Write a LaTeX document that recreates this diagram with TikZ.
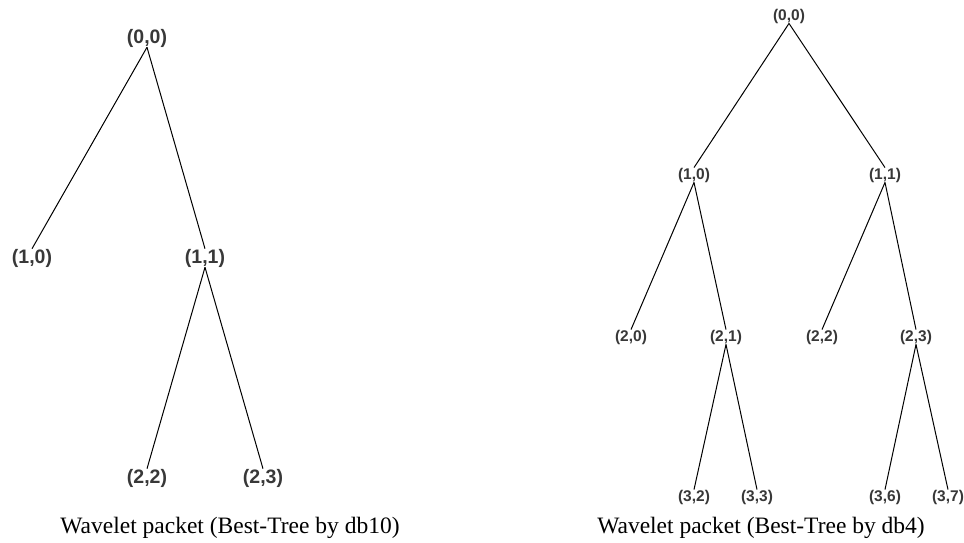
\documentclass[tikz,border=0pt]{standalone}
\usepackage{fontspec}
\setmainfont{Liberation Serif}
\newfontfamily\pktfont{Liberation Sans}

\begin{document}
\begin{tikzpicture}[x=1pt, y=-1pt,
    every node/.style={inner sep=0pt},
    pkt/.style={font=\pktfont\bfseries\fontsize{15.5}{16}\selectfont, text=black!78},
    bigpkt/.style={font=\pktfont\bfseries\fontsize{19.5}{20}\selectfont, text=black!78},
    caption/.style={font=\fontsize{23.5}{24}\selectfont, anchor=base},
    branch/.style={line width=1pt}]
  \useasboundingbox (0,0) rectangle (964,542);

  % Best tree by db10
  \node[bigpkt] (a00) at (147,38) {(0,0)};
  \node[bigpkt] (a10) at (32,258) {(1,0)};
  \node[bigpkt] (a11) at (205,258) {(1,1)};
  \node[bigpkt] (a22) at (147,478) {(2,2)};
  \node[bigpkt] (a23) at (263,478) {(2,3)};

  \foreach \p/\c in {a00/a10, a00/a11, a11/a22, a11/a23} {
    \draw[branch] (\p.south) -- (\c.north);
  }
  \node[caption] (capa) at (230,533) {Wavelet packet (Best-Tree by db10)};

  % Best tree by db4
  \node[pkt] (b00) at (789,16) {(0,0)};
  \node[pkt] (b10) at (694,175) {(1,0)};
  \node[pkt] (b11) at (885,175) {(1,1)};
  \node[pkt] (b20) at (631,337) {(2,0)};
  \node[pkt] (b21) at (726,337) {(2,1)};
  \node[pkt] (b22) at (822,337) {(2,2)};
  \node[pkt] (b23) at (916,337) {(2,3)};
  \node[pkt] (b32) at (694,497) {(3,2)};
  \node[pkt] (b33) at (757,497) {(3,3)};
  \node[pkt] (b36) at (885,497) {(3,6)};
  \node[pkt] (b37) at (948,497) {(3,7)};

  \foreach \p/\c in {b00/b10, b00/b11, b10/b20, b10/b21, b11/b22, b11/b23,
                     b21/b32, b21/b33, b23/b36, b23/b37} {
    \draw[branch] (\p.south) -- (\c.north);
  }
  \node[caption] (capb) at (761,533) {Wavelet packet (Best-Tree by db4)};
\end{tikzpicture}
\end{document}
